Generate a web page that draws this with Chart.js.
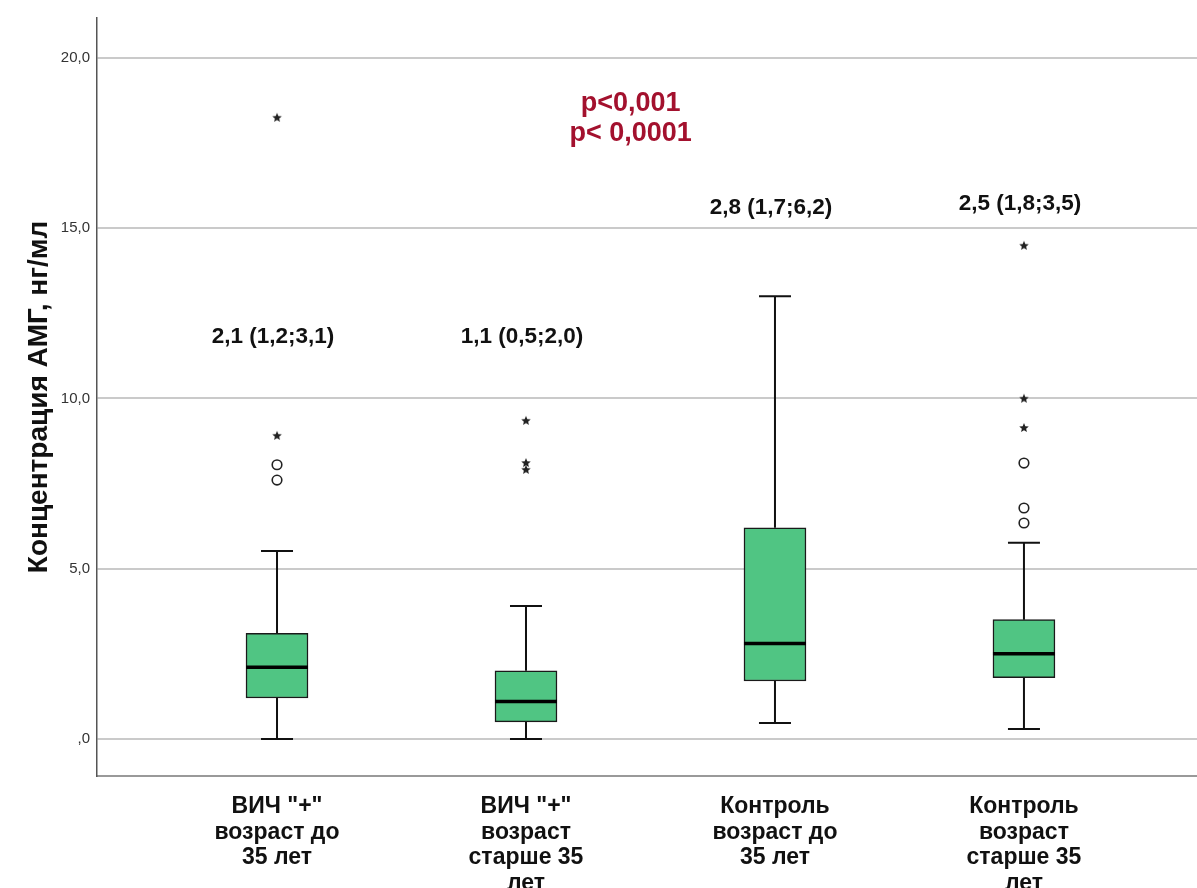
<!DOCTYPE html>
<html>
<head>
<meta charset="utf-8">
<script src="https://cdn.jsdelivr.net/npm/chart.js@4.4.1/dist/chart.umd.min.js"></script>
<style>
  html, body { margin: 0; padding: 0; background: #fff; overflow: hidden; }
  canvas { display: block; }
</style>
</head>
<body>
<canvas id="amh" width="1197" height="888"></canvas>
<script>
const groups = [
  ['ВИЧ "+"', 'возраст до', '35 лет'],
  ['ВИЧ "+"', 'возраст', 'старше 35', 'лет'],
  ['Контроль', 'возраст до', '35 лет'],
  ['Контроль', 'возраст', 'старше 35', 'лет']
];
const medians = [2.1, 1.1, 2.8, 2.5];
const q1 = [1.2, 0.5, 1.7, 1.8];
const q3 = [3.1, 2.0, 6.2, 3.5];
const whiskerLo = [0.0, 0.0, 0.47, 0.29];
const whiskerHi = [5.52, 3.9, 13.0, 5.76];
// circles = outliers, stars = extreme values
const outliers = [[8.05, 7.6], [], [], [8.1, 6.78, 6.34]];
const extremes = [[18.24, 8.9], [9.34, 8.1, 7.9], [], [14.48, 9.99, 9.13]];
const yTicks = [0, 5, 10, 15, 20];
const pValues = ['p<0,001', 'p< 0,0001'];

const FONT = "'Liberation Sans', Arial, sans-serif";
const fmt = v => v.toFixed(1).replace('.', ',');

function starImage(r) {
  const c = document.createElement('canvas');
  const s = Math.ceil(r * 2 + 2);
  c.width = c.height = s;
  const g = c.getContext('2d');
  g.fillStyle = '#222';
  g.beginPath();
  for (let k = 0; k < 10; k++) {
    const rad = k % 2 ? r * 0.45 : r;
    const a = -Math.PI / 2 + k * Math.PI / 5;
    g.lineTo(s / 2 + rad * Math.cos(a), s / 2 + rad * Math.sin(a));
  }
  g.closePath();
  g.fill();
  return c;
}

const pointsOf = arr => arr.flatMap((vals, i) => vals.map(v => ({ x: i + 1, y: v })));

// whiskers, medians and text annotations around the floating bars
const boxParts = {
  id: 'boxParts',
  beforeDatasetsDraw(chart, args, opts) {
    const { ctx, scales: { x, y } } = chart;
    ctx.save();
    ctx.strokeStyle = '#111';
    ctx.lineWidth = 2;
    groups.forEach((g, i) => {
      const cx = x.getPixelForValue(i + 1);
      const lo = y.getPixelForValue(whiskerLo[i]);
      const hi = y.getPixelForValue(whiskerHi[i]);
      ctx.beginPath();
      ctx.moveTo(cx, hi); ctx.lineTo(cx, y.getPixelForValue(q3[i]));
      ctx.moveTo(cx, y.getPixelForValue(q1[i])); ctx.lineTo(cx, lo);
      ctx.moveTo(cx - opts.cap, hi); ctx.lineTo(cx + opts.cap, hi);
      ctx.moveTo(cx - opts.cap, lo); ctx.lineTo(cx + opts.cap, lo);
      ctx.stroke();
    });
    ctx.restore();
  },
  afterDatasetsDraw(chart, args, opts) {
    const { ctx, scales: { x, y } } = chart;
    ctx.save();
    ctx.strokeStyle = '#000';
    ctx.lineWidth = 3.5;
    groups.forEach((g, i) => {
      const cx = x.getPixelForValue(i + 1);
      const my = y.getPixelForValue(medians[i]);
      ctx.beginPath();
      ctx.moveTo(cx - opts.half, my);
      ctx.lineTo(cx + opts.half, my);
      ctx.stroke();
    });

    ctx.textAlign = 'center';
    ctx.textBaseline = 'middle';
    ctx.fillStyle = '#111';
    ctx.font = `bold 22.5px ${FONT}`;
    groups.forEach((g, i) => {
      const text = `${fmt(medians[i])} (${fmt(q1[i])};${fmt(q3[i])})`;
      ctx.fillText(text, x.getPixelForValue(i + 1) - 4, y.getPixelForValue(opts.labelAt[i]));
    });

    ctx.fillStyle = '#a3112e';
    ctx.font = `bold 27px ${FONT}`;
    pValues.forEach((t, k) => {
      ctx.fillText(t, x.getPixelForValue(opts.pAt.x), y.getPixelForValue(opts.pAt.y[k]));
    });
    ctx.restore();
  }
};

new Chart(document.getElementById('amh'), {
  type: 'bar',
  data: {
    datasets: [
      {
        label: 'box',
        data: groups.map((g, i) => ({ x: i + 1, y: [q1[i], q3[i]] })),
        backgroundColor: '#50c583',
        borderColor: '#1a1a1a',
        borderWidth: 1.5,
        borderSkipped: false,
        barThickness: 62
      },
      {
        type: 'scatter',
        label: 'outliers',
        data: pointsOf(outliers),
        pointStyle: 'circle',
        radius: 4.8,
        borderColor: '#222',
        borderWidth: 1.6,
        backgroundColor: 'rgba(255,255,255,0)'
      },
      {
        type: 'scatter',
        label: 'extremes',
        data: pointsOf(extremes),
        pointStyle: starImage(5),
        radius: 5
      }
    ]
  },
  options: {
    responsive: false,
    animation: false,
    layout: { autoPadding: false, padding: { top: 18, right: 0, bottom: 0, left: 0 } },
    plugins: {
      legend: { display: false },
      tooltip: { enabled: false },
      boxParts: {
        cap: 16,
        half: 31,
        labelAt: [11.8, 11.8, 15.6, 15.7],
        pAt: { x: 2.42, y: [18.65, 17.77] }
      }
    },
    scales: {
      x: {
        type: 'linear',
        offset: false,
        min: 0.277,
        max: 4.695,
        afterBuildTicks: s => { s.ticks = groups.map((g, i) => ({ value: i + 1 })); },
        afterFit: s => { s.height = 112; },
        grid: { display: false, drawTicks: false, offset: false },
        border: { display: true, color: '#999', width: 2 },
        ticks: {
          autoSkip: false,
          maxRotation: 0,
          padding: 18,
          color: '#111',
          font: { family: FONT, size: 23, weight: 'bold', lineHeight: '25.5px' },
          callback: v => groups[v - 1]
        }
      },
      y: {
        min: -1.09,
        max: 21.17,
        afterBuildTicks: s => { s.ticks = yTicks.map(v => ({ value: v })); },
        afterFit: s => { s.width = 97; },
        grid: { color: '#cacaca', lineWidth: 2, drawTicks: false },
        border: { display: true, color: '#555', width: 1.5 },
        ticks: {
          padding: 7,
          color: '#333',
          font: { family: FONT, size: 15 },
          callback: v => (v === 0 ? ',0' : fmt(v))
        },
        title: {
          display: true,
          text: 'Концентрация АМГ, нг/мл',
          color: '#111',
          font: { family: FONT, size: 28, weight: 'bold' },
          padding: { top: 22, bottom: 0 }
        }
      }
    }
  },
  plugins: [boxParts]
});
</script>
</body>
</html>
